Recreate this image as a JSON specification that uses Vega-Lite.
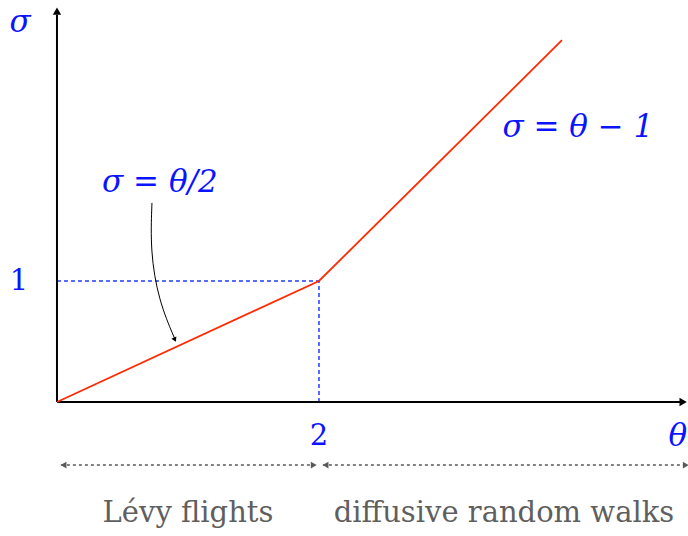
{
  "$schema": "https://vega.github.io/schema/vega-lite/v6.json",
  "autosize": "none",
  "width": 688,
  "height": 536,
  "padding": 0,
  "background": "white",
  "config": {"view": {"stroke": null}},
  "datasets": {
    "axes": [
      {"g": "x", "x": 0, "y": 0}, {"g": "x", "x": 4.76, "y": 0},
      {"g": "y", "x": 0, "y": 0}, {"g": "y", "x": 0, "y": 3.2}
    ],
    "axisHeads": [
      {"x": 4.78, "y": 0, "shape": "triangle-right"},
      {"x": 0, "y": 3.23, "shape": "triangle-up"}
    ],
    "curve": [
      {"x": 0, "y": 0}, {"x": 2, "y": 1}, {"x": 3.855, "y": 2.99}
    ],
    "guides": [
      {"g": "h", "x": 0, "y": 1}, {"g": "h", "x": 2, "y": 1},
      {"g": "v", "x": 2, "y": 0}, {"g": "v", "x": 2, "y": 1}
    ],
    "ranges": [
      {"g": "a", "x": 0.03, "y": -0.521}, {"g": "a", "x": 1.97, "y": -0.521},
      {"g": "b", "x": 2.03, "y": -0.521}, {"g": "b", "x": 4.79, "y": -0.521}
    ],
    "rangeHeads": [
      {"x": 0.05, "y": -0.521, "shape": "triangle-left"},
      {"x": 1.96, "y": -0.521, "shape": "triangle-right"},
      {"x": 2.05, "y": -0.521, "shape": "triangle-left"},
      {"x": 4.8, "y": -0.521, "shape": "triangle-right"}
    ],
    "pointer": [
      {"i": 1, "x": 0.725, "y": 1.645},
      {"i": 2, "x": 0.712, "y": 1.25},
      {"i": 3, "x": 0.775, "y": 0.84},
      {"i": 4, "x": 0.9, "y": 0.52}
    ],
    "pointerHead": [{"x": 0.9, "y": 0.515}],
    "mathCenter": [
      {"t": "σ", "x": -0.282, "y": 3.13},
      {"t": "σ = θ/2", "x": 0.786, "y": 1.81},
      {"t": "σ = θ − 1", "x": 3.977, "y": 2.264}
    ],
    "mathRight": [
      {"t": "θ", "x": 4.81, "y": -0.29}
    ],
    "mathUpright": [
      {"t": "1", "x": -0.29, "y": 1.0},
      {"t": "2", "x": 2.0, "y": -0.281}
    ],
    "regions": [
      {"t": "Lévy flights", "x": 1.0, "y": -0.917},
      {"t": "diffusive random walks", "x": 3.412, "y": -0.917}
    ]
  },
  "encoding": {
    "x": {"field": "x", "type": "quantitative", "scale": {"domain": [-0.435, 4.817], "nice": false, "zero": false}, "axis": null},
    "y": {"field": "y", "type": "quantitative", "scale": {"domain": [-1.107, 3.322], "nice": false, "zero": false}, "axis": null}
  },
  "layer": [
    {
      "data": {"name": "guides"},
      "mark": {"type": "line", "color": "#1f3dff", "strokeWidth": 1.5, "strokeDash": [4, 3]},
      "encoding": {"detail": {"field": "g"}}
    },
    {
      "data": {"name": "axes"},
      "mark": {"type": "line", "color": "black", "strokeWidth": 2},
      "encoding": {"detail": {"field": "g"}}
    },
    {
      "data": {"name": "axisHeads"},
      "mark": {"type": "point", "filled": true, "color": "black", "size": 70, "opacity": 1},
      "encoding": {"shape": {"field": "shape", "type": "nominal", "scale": null}}
    },
    {
      "data": {"name": "curve"},
      "mark": {"type": "line", "color": "#ff2a00", "strokeWidth": 1.8}
    },
    {
      "data": {"name": "ranges"},
      "mark": {"type": "line", "color": "#5a5a5a", "strokeWidth": 1.5, "strokeDash": [3, 3]},
      "encoding": {"detail": {"field": "g"}}
    },
    {
      "data": {"name": "rangeHeads"},
      "mark": {"type": "point", "filled": true, "color": "#5a5a5a", "size": 45, "opacity": 1},
      "encoding": {"shape": {"field": "shape", "type": "nominal", "scale": null}}
    },
    {
      "data": {"name": "pointer"},
      "mark": {"type": "line", "color": "black", "strokeWidth": 1, "interpolate": "basis"},
      "encoding": {"order": {"field": "i"}}
    },
    {
      "data": {"name": "pointerHead"},
      "mark": {"type": "point", "filled": true, "color": "black", "size": 30, "opacity": 1, "shape": "triangle-down", "angle": 335}
    },
    {
      "data": {"name": "mathCenter"},
      "mark": {"type": "text", "color": "#0a14ff", "font": "DejaVu Serif", "fontStyle": "italic", "fontSize": 31, "align": "center", "baseline": "middle"},
      "encoding": {"text": {"field": "t"}}
    },
    {
      "data": {"name": "mathRight"},
      "mark": {"type": "text", "color": "#0a14ff", "font": "DejaVu Serif", "fontStyle": "italic", "fontSize": 31, "align": "right", "baseline": "middle"},
      "encoding": {"text": {"field": "t"}}
    },
    {
      "data": {"name": "mathUpright"},
      "mark": {"type": "text", "color": "#0a14ff", "font": "DejaVu Serif", "fontSize": 29, "align": "center", "baseline": "middle"},
      "encoding": {"text": {"field": "t"}}
    },
    {
      "data": {"name": "regions"},
      "mark": {"type": "text", "color": "#5f5f5f", "font": "DejaVu Serif", "fontSize": 29, "align": "center", "baseline": "middle"},
      "encoding": {"text": {"field": "t"}}
    }
  ]
}
